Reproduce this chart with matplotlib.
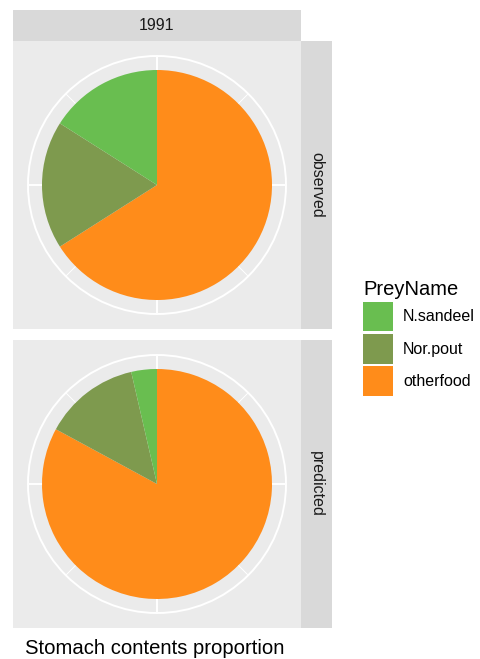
import numpy as np
import matplotlib.pyplot as plt
from matplotlib.patches import Rectangle, Circle

plt.rcParams['font.family'] = ['Liberation Sans', 'DejaVu Sans']

# data
prey = ['otherfood', 'Nor.pout', 'N.sandeel']
observed = [0.66, 0.18, 0.16]
predicted = [0.829, 0.135, 0.036]
colors = ['#FF8C1A', '#7E9A4E', '#69BE50']
rows = ['observed', 'predicted']
year = '1991'

W, H = 481, 659
fig = plt.figure(figsize=(W / 100, H / 100), dpi=100)


def box(x0, y0, x1, y1):
    # pixel box (top-left origin) -> figure fraction rect
    return [x0 / W, 1 - y1 / H, (x1 - x0) / W, (y1 - y0) / H]


strip_col = '#D9D9D9'
panel_col = '#EBEBEB'

# top strip
sax = fig.add_axes(box(13, 10, 301, 41))
sax.add_patch(Rectangle((0, 0), 1, 1, color=strip_col))
sax.text(0.5, 0.5, year, ha='center', va='center', fontsize=11.5, color='#1A1A1A')
sax.axis('off')

panels = [(41, 329), (340, 628)]
wedges = None
for (y0, y1), vals, lab in zip(panels, [observed, predicted], rows):
    ax = fig.add_axes(box(13, y0, 301, y1))
    ax.set_facecolor(panel_col)
    half = 144 / 115
    for s in ax.spines.values():
        s.set_visible(False)
    rout = 129 / 115
    # theta grid lines
    for k in range(8):
        a = np.deg2rad(90 - 45 * k)
        lw = 1.4 if k % 2 == 0 else 0.7
        ax.plot([0, rout * np.cos(a)], [0, rout * np.sin(a)], color='white',
                lw=lw, zorder=1)
    ax.add_patch(Circle((0, 0), rout, fill=False, ec='white', lw=1.4, zorder=1))
    w, _ = ax.pie(vals, colors=colors, startangle=90, counterclock=False,
                  radius=1, frame=True,
                  wedgeprops=dict(linewidth=0, zorder=2))
    ax.set_aspect('equal')
    ax.set_xlim(-half, half)
    ax.set_ylim(-half, half)
    ax.set_xticks([])
    ax.set_yticks([])
    if wedges is None:
        wedges = w
    # right strip
    rax = fig.add_axes(box(301, y0, 332, y1))
    rax.add_patch(Rectangle((0, 0), 1, 1, color=strip_col))
    rax.text(0.5, 0.5, lab, ha='center', va='center', rotation=-90,
             fontsize=11.5, color='#1A1A1A')
    rax.axis('off')

# legend: N.sandeel, Nor.pout, otherfood
order = [2, 1, 0]
leg = fig.legend([wedges[i] for i in order], [prey[i] for i in order],
                 title='PreyName', loc='upper left',
                 bbox_to_anchor=(349 / W, 1 - 266 / H), frameon=False,
                 fontsize=11.5, title_fontsize=14.5, handlelength=1.88,
                 handleheight=2.5, labelspacing=0.14, handletextpad=0.6,
                 alignment='left')

fig.text(25 / W, 1 - 648 / H, 'Stomach contents proportion', ha='left',
         va='center', fontsize=14.6, color='black')

fig.savefig('out.png', dpi=100)
